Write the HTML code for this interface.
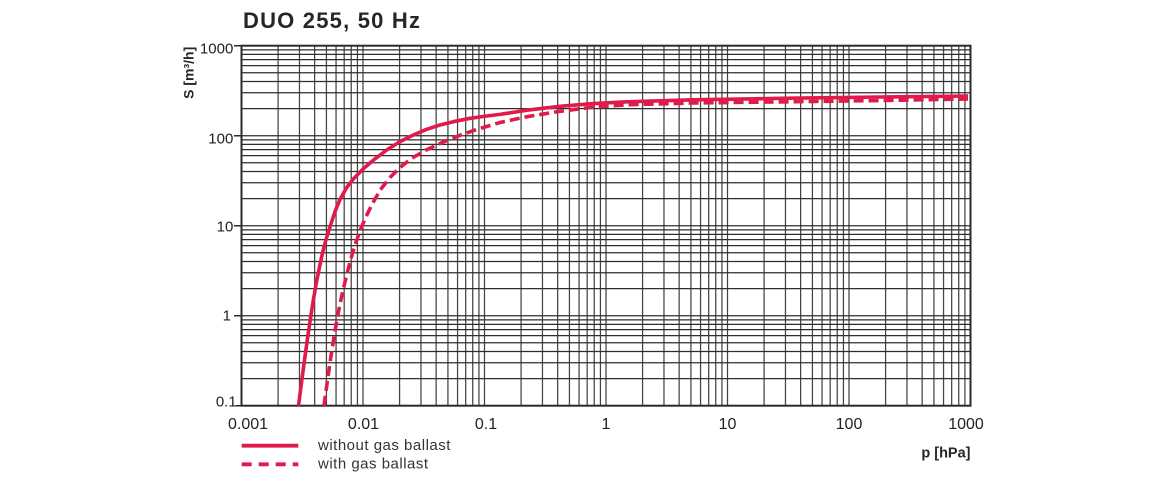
<!DOCTYPE html>
<html>
<head>
<meta charset="utf-8">
<style>
html,body{margin:0;padding:0;background:#fff;}
body{width:1160px;height:480px;overflow:hidden;}
svg{display:block;}
text{font-family:"Liberation Sans",Arial,sans-serif;}
</style>
</head>
<body>
<svg width="1160" height="480" viewBox="0 0 1160 480" xmlns="http://www.w3.org/2000/svg">
<rect width="1160" height="480" fill="#fff"/>
<!-- title -->
<text x="243" y="28" font-size="22" font-weight="bold" fill="#262626" letter-spacing="1.2">DUO 255, 50 Hz</text>
<!-- y axis title -->
<text transform="translate(193.5,72.8) rotate(-90)" text-anchor="middle" font-size="14" font-weight="bold" fill="#262626">S [m³/h]</text>

<!-- grid -->
<g stroke="#444" stroke-width="1.25" fill="none">
<path d="M278.08 45.7V405.7M299.47 45.7V405.7M314.65 45.7V405.7M326.43 45.7V405.7M336.05 45.7V405.7M344.18 45.7V405.7M351.23 45.7V405.7M357.44 45.7V405.7
M363 45.7V405.7M399.58 45.7V405.7M420.97 45.7V405.7M436.15 45.7V405.7M447.93 45.7V405.7M457.55 45.7V405.7M465.68 45.7V405.7M472.73 45.7V405.7M478.94 45.7V405.7
M484.5 45.7V405.7M521.08 45.7V405.7M542.47 45.7V405.7M557.65 45.7V405.7M569.43 45.7V405.7M579.05 45.7V405.7M587.18 45.7V405.7M594.23 45.7V405.7M600.44 45.7V405.7
M606 45.7V405.7M642.58 45.7V405.7M663.97 45.7V405.7M679.15 45.7V405.7M690.93 45.7V405.7M700.55 45.7V405.7M708.68 45.7V405.7M715.73 45.7V405.7M721.94 45.7V405.7
M727.5 45.7V405.7M764.08 45.7V405.7M785.47 45.7V405.7M800.65 45.7V405.7M812.43 45.7V405.7M822.05 45.7V405.7M830.18 45.7V405.7M837.23 45.7V405.7M843.44 45.7V405.7
M849 45.7V405.7M885.58 45.7V405.7M906.97 45.7V405.7M922.15 45.7V405.7M933.93 45.7V405.7M943.55 45.7V405.7M951.68 45.7V405.7M958.73 45.7V405.7M964.94 45.7V405.7"/>
<path stroke="#2e2e2e" d="M241.5 378.61H970.5M241.5 362.76H970.5M241.5 351.51H970.5M241.5 342.79H970.5M241.5 335.67H970.5M241.5 329.64H970.5M241.5 324.42H970.5M241.5 319.82H970.5
M241.5 315.7H970.5M241.5 288.61H970.5M241.5 272.76H970.5M241.5 261.51H970.5M241.5 252.79H970.5M241.5 245.67H970.5M241.5 239.64H970.5M241.5 234.42H970.5M241.5 229.82H970.5
M241.5 225.7H970.5M241.5 198.61H970.5M241.5 182.76H970.5M241.5 171.51H970.5M241.5 162.79H970.5M241.5 155.67H970.5M241.5 149.64H970.5M241.5 144.42H970.5M241.5 139.82H970.5
M241.5 135.7H970.5M241.5 108.61H970.5M241.5 92.76H970.5M241.5 81.51H970.5M241.5 72.79H970.5M241.5 65.67H970.5M241.5 59.64H970.5M241.5 54.42H970.5M241.5 49.82H970.5"/>
</g>
<!-- frame -->
<rect x="241.5" y="45.7" width="729" height="360" fill="none" stroke="#2a2a2a" stroke-width="2"/>
<!-- y major ticks -->
<path stroke="#2a2a2a" stroke-width="1.5" d="M234 45.7H241.5M234 135.7H241.5M234 225.7H241.5M234 315.7H241.5M236 405.7H241.5"/>

<!-- y tick labels -->
<g font-size="15" fill="#222" text-anchor="end">
<text x="233.3" y="53.3">1000</text>
<text x="233.3" y="143.3">100</text>
<text x="233.3" y="231.7">10</text>
<text x="231" y="320.7">1</text>
<text x="236.7" y="406.7">0.1</text>
</g>
<!-- x tick labels -->
<g font-size="16" fill="#222" text-anchor="middle">
<text x="248" y="429">0.001</text>
<text x="363.5" y="429">0.01</text>
<text x="486" y="429">0.1</text>
<text x="606" y="429">1</text>
<text x="727.5" y="429">10</text>
<text x="849" y="429">100</text>
<text x="966" y="429">1000</text>
</g>
<text x="970.5" y="457.5" text-anchor="end" font-size="14.5" font-weight="bold" fill="#262626">p [hPa]</text>

<!-- curves -->
<g fill="none" stroke="#e01a4a" stroke-width="3.6" stroke-linejoin="round" stroke-linecap="butt">
<polyline points="298.5,405.7 301.5,382.5 304.5,360 307.5,338.5 310.5,318 313.5,299 316.5,282 319.5,267 322.5,253 326,239.5 330,227 335,211.5 340,199.5 346.7,187.5 353.3,179 363.3,168.8 373.3,160.2 386.7,150 400,141.6 413.3,135 426.7,129.3 440,125 453.3,121.7 470,118.3 486.7,116 500,114.4 527,110.2 560,106.3 593,103.6 627,101.8 693,99.8 790,98.2 880,97 968,96"/>
<polyline stroke-dasharray="10,5" points="324,405.7 327.5,380 331,356 334.5,334 338,314 341.5,297 345,282 348.5,268 352,255 356,242 360,231 364.5,220 369.5,209.5 375,199 381.7,188 390,177.5 400,167.5 411.7,158.3 426.7,149.7 443.3,142 460,135.3 476.7,129.5 500,122.5 527,116.7 560,111.3 593,107.2 627,104.8 693,103 790,101.8 880,100.5 968,99"/>
</g>

<!-- legend -->
<line x1="241.7" y1="445.7" x2="298.3" y2="445.7" stroke="#e01a4a" stroke-width="3.8"/>
<line x1="241.7" y1="464.3" x2="298.3" y2="464.3" stroke="#e01a4a" stroke-width="3.8" stroke-dasharray="10,7"/>
<g font-size="15" fill="#333" letter-spacing="0.5">
<text x="318" y="450">without gas ballast</text>
<text x="318" y="468.5">with gas ballast</text>
</g>
</svg>
</body>
</html>
